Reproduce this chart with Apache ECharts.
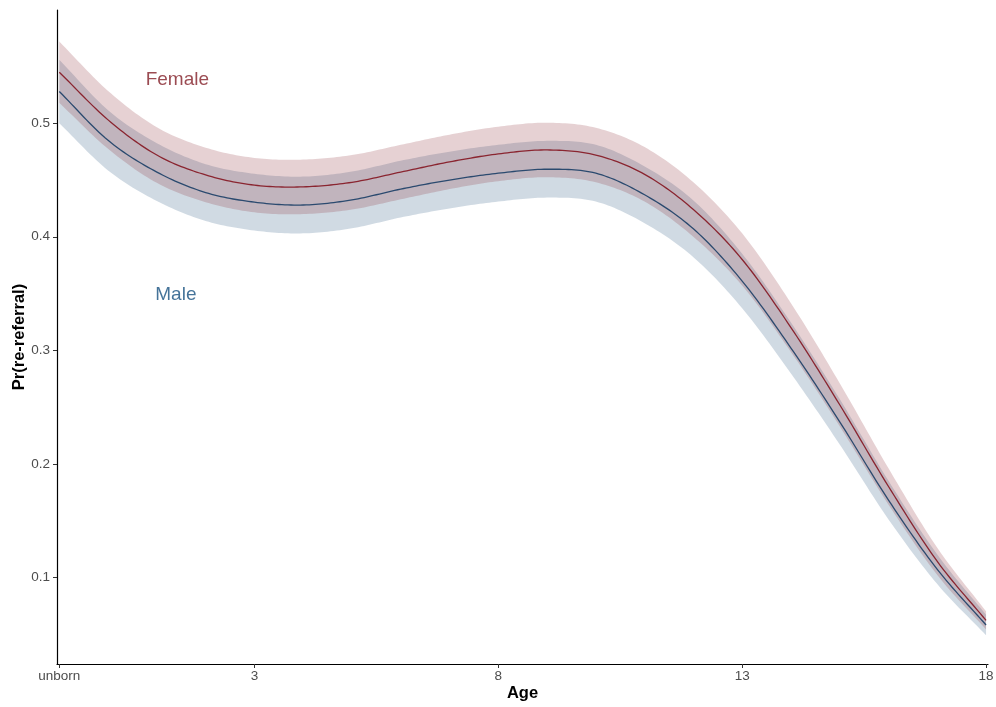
<!DOCTYPE html>
<html>
<head>
<meta charset="utf-8">
<script src="https://cdn.jsdelivr.net/npm/echarts@6/dist/echarts.min.js"></script>
<style>html,body{margin:0;padding:0;background:#fff}#c{width:996px;height:707px}</style>
</head>
<body>
<div id="c"></div>
<script>
// ---- data ----
var ages = [-1, 0, 1, 2, 3, 4, 5, 6, 7, 8, 9, 10, 11, 12, 13, 14, 15, 16, 17, 18];
var femaleMean  = [0.545, 0.503, 0.472, 0.4545, 0.4455, 0.444, 0.448, 0.457, 0.466, 0.473, 0.4765, 0.472, 0.455, 0.424, 0.380, 0.320, 0.252, 0.180, 0.114, 0.062];
var femaleLower = [0.518, 0.4775, 0.4475, 0.4305, 0.4215, 0.420, 0.424, 0.433, 0.442, 0.449, 0.4525, 0.448, 0.431, 0.400, 0.357, 0.2985, 0.233, 0.164, 0.102, 0.054];
var femaleUpper = [0.572, 0.5285, 0.4965, 0.4785, 0.4695, 0.468, 0.472, 0.481, 0.490, 0.497, 0.5005, 0.496, 0.479, 0.448, 0.403, 0.3415, 0.271, 0.196, 0.126, 0.070];
var maleMean    = [0.528, 0.485, 0.457, 0.439, 0.4305, 0.428, 0.4325, 0.442, 0.450, 0.456, 0.4595, 0.456, 0.437, 0.407, 0.361, 0.302, 0.237, 0.168, 0.107, 0.058];
var maleLower   = [0.500, 0.4585, 0.4315, 0.414, 0.4055, 0.403, 0.4075, 0.417, 0.425, 0.431, 0.4345, 0.431, 0.412, 0.382, 0.337, 0.2795, 0.217, 0.151, 0.094, 0.049];
var maleUpper   = [0.556, 0.5115, 0.4825, 0.464, 0.4555, 0.453, 0.4575, 0.467, 0.475, 0.481, 0.4845, 0.481, 0.462, 0.432, 0.385, 0.3245, 0.257, 0.185, 0.120, 0.067];
var xTicks = [-1, 3, 8, 13, 18];
var xTickLabels = ['unborn', '3', '8', '13', '18'];
var yTicks = [0.1, 0.2, 0.3, 0.4, 0.5];
var annotationText = ['Female', 'Male'];
var annotationX = [1.42, 1.39];
var annotationY = [0.538, 0.3485];

var FONT = '"Liberation Sans", Arial, Helvetica, sans-serif';
var femaleLine = '#8A2530', maleLine = '#2B4A6F';
var femaleFill = 'rgba(139,37,48,0.21)', maleFill = 'rgba(31,78,121,0.21)';

// smooth drawing path through the read points (Catmull-Rom / Hermite), in data space
function smoothPath(xs, ys, steps) {
  var n = xs.length, out = [];
  function m(i) {
    if (i === 0) return (ys[1] - ys[0]) / (xs[1] - xs[0]);
    if (i === n - 1) return (ys[n - 1] - ys[n - 2]) / (xs[n - 1] - xs[n - 2]);
    return (ys[i + 1] - ys[i - 1]) / (xs[i + 1] - xs[i - 1]);
  }
  for (var i = 0; i < n - 1; i++) {
    var h = xs[i + 1] - xs[i], m0 = m(i) * h, m1 = m(i + 1) * h;
    for (var s = 0; s < steps; s++) {
      var t = s / steps, t2 = t * t, t3 = t2 * t;
      var y = (2 * t3 - 3 * t2 + 1) * ys[i] + (t3 - 2 * t2 + t) * m0 + (-2 * t3 + 3 * t2) * ys[i + 1] + (t3 - t2) * m1;
      out.push([xs[i] + t * h, y]);
    }
  }
  out.push([xs[n - 1], ys[n - 1]]);
  return out;
}

function bandSeries(lo, hi, fill, z) {
  return {
    type: 'custom', silent: true, z: z, clip: true,
    data: [[ages[0], lo[0]]],
    renderItem: function (params, api) {
      var up = smoothPath(ages, hi, 16).map(function (p) { return api.coord(p); });
      var dn = smoothPath(ages, lo, 16).map(function (p) { return api.coord(p); }).reverse();
      return {type: 'polygon', shape: {points: up.concat(dn)}, style: {fill: fill, stroke: null}};
    }
  };
}
function lineSeries(ys, color, z) {
  return {
    type: 'custom', silent: true, z: z, clip: true,
    data: [[ages[0], ys[0]]],
    renderItem: function (params, api) {
      var pts = smoothPath(ages, ys, 16).map(function (p) { return api.coord(p); });
      return {type: 'polyline', shape: {points: pts}, style: {stroke: color, lineWidth: 1.3, fill: null}};
    }
  };
}

var series = [
  bandSeries(maleLower, maleUpper, maleFill, 1),
  bandSeries(femaleLower, femaleUpper, femaleFill, 2),
  lineSeries(maleMean, maleLine, 3),
  lineSeries(femaleMean, femaleLine, 4),
  {type: 'scatter', symbolSize: 0, silent: true, z: 5,
   data: annotationText.map(function (t, i) {
     return {value: [annotationX[i], annotationY[i]], label: {show: true, position: 'inside', formatter: t,
       color: i === 0 ? '#821E27' : '#175080', fontSize: 19, fontFamily: FONT}};
   })}
];

var chart = echarts.init(document.getElementById('c'), null, {renderer: 'canvas'});
chart.setOption({
  animation: false,
  backgroundColor: '#fff',
  grid: {left: 57, right: 8, top: 10, bottom: 43, containLabel: false, outerBoundsMode: 'none'},
  xAxis: {
    type: 'value', min: -1.047, max: 18.04,
    name: 'Age', nameLocation: 'middle', nameGap: 20.5, nameMoveOverlap: false,
    nameTextStyle: {fontFamily: FONT, fontWeight: 'bold', fontSize: 16.5, color: '#000', verticalAlign: 'top'},
    splitLine: {show: false},
    axisLine: {show: true, onZero: false, lineStyle: {color: '#000', width: 1.2}},
    axisTick: {show: true, length: 4, lineStyle: {color: '#333'}, customValues: xTicks},
    axisLabel: {customValues: xTicks, margin: 5, color: '#4D4D4D', fontSize: 13.5, fontFamily: FONT,
      formatter: function (v) { var i = xTicks.indexOf(v); return i >= 0 ? xTickLabels[i] : ''; }}
  },
  yAxis: {
    type: 'value', min: 0.0236, max: 0.5998,
    name: 'Pr(re-referral)', nameLocation: 'middle', nameGap: 29, nameRotate: 90, nameMoveOverlap: false,
    nameTextStyle: {fontFamily: FONT, fontWeight: 'bold', fontSize: 16.5, color: '#000'},
    splitLine: {show: false},
    axisLine: {show: true, onZero: false, lineStyle: {color: '#000', width: 1.2}},
    axisTick: {show: true, length: 4, lineStyle: {color: '#333'}, customValues: yTicks},
    axisLabel: {customValues: yTicks, margin: 7, color: '#4D4D4D', fontSize: 13.5, fontFamily: FONT,
      formatter: function (v) { return v.toFixed(1); }}
  },
  series: series
});
</script>
</body>
</html>
